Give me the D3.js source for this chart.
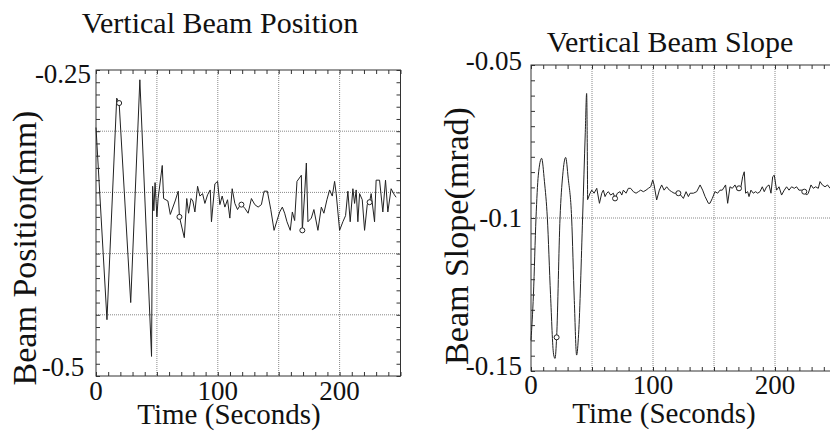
<!DOCTYPE html>
<html>
<head>
<meta charset="utf-8">
<script src="https://cdn.jsdelivr.net/npm/d3@7"></script>
<style>
  body { margin: 0; background: #fff; }
  text { font-family: "Liberation Serif", "Times New Roman", serif; fill: #111; }
</style>
</head>
<body>
<div id="chart"></div>
<script>
// Vertical beam position (mm)
var posTime = [0, 9, 17, 19, 28.5, 36, 45.6, 46.5, 47.5, 48.5, 50, 51, 54.4, 55.5, 59, 61, 65, 67.5, 68.5,
  72.5, 74.5, 76, 78, 79.5, 81.2, 83.4, 85.3, 87.5, 89.4, 91.6, 93.8, 94.8, 97.6, 99.8, 101.7, 103.6,
  105.8, 108, 109.9, 111.8, 114, 116.2, 118, 119.4, 122.2, 124.9, 127.6, 130.4, 133.1, 135.8, 138,
  140.7, 143.5, 146.2, 148.6, 150.8, 153, 154.9, 156.8, 159.5, 161.2, 163.1, 165, 168.6, 169.4, 171.3,
  172.7, 174, 176.8, 178.9, 182.2, 185, 187.1, 189.6, 191.8, 194, 195.9, 197.2, 200, 202.7, 204.9,
  206.8, 208.7, 210.9, 212.3, 213.6, 215, 216.4, 218.6, 220.5, 222.7, 224.6, 225.9, 228.7, 230,
  232.8, 235.5, 237.7, 239.6, 242.3, 245, 246.4];
var posValue = [-0.297, -0.454, -0.273, -0.277, -0.440, -0.258, -0.484, -0.345, -0.365, -0.342, -0.370,
  -0.355, -0.328, -0.355, -0.357, -0.368, -0.357, -0.349, -0.370, -0.387, -0.355, -0.367, -0.355,
  -0.357, -0.366, -0.345, -0.353, -0.351, -0.359, -0.352, -0.348, -0.374, -0.343, -0.341, -0.360,
  -0.353, -0.362, -0.356, -0.371, -0.347, -0.359, -0.364, -0.361, -0.360, -0.363, -0.367, -0.355,
  -0.360, -0.362, -0.360, -0.349, -0.349, -0.364, -0.381, -0.373, -0.366, -0.362, -0.367, -0.374,
  -0.381, -0.366, -0.373, -0.341, -0.336, -0.381, -0.351, -0.326, -0.374, -0.371, -0.364, -0.381,
  -0.362, -0.367, -0.356, -0.348, -0.353, -0.341, -0.351, -0.381, -0.374, -0.369, -0.349, -0.374,
  -0.347, -0.359, -0.348, -0.374, -0.351, -0.356, -0.381, -0.360, -0.358, -0.351, -0.374, -0.340,
  -0.340, -0.366, -0.340, -0.366, -0.347, -0.352, -0.354];
var posMarkers = [19, 68.5, 119.4, 169.4, 224.6];

// Vertical beam slope (mrad): smooth oscillation, then noisy settle
var slopeWaveTime = [0, 2, 4.1, 6, 8.7, 11, 13.4, 16, 18.5, 19.7, 21, 23.8, 26, 28.4, 30.5, 33.3, 35.5,
  37.4, 39, 42.3, 44.5, 45.6, 46.4];
var slopeWave = [-0.140, -0.125, -0.100, -0.086, -0.0805, -0.088, -0.100, -0.125, -0.1445, -0.1459,
  -0.139, -0.100, -0.086, -0.0802, -0.087, -0.100, -0.127, -0.1448, -0.138, -0.100, -0.072, -0.0593,
  -0.094];
var slopeNoiseTime = [46.4, 48.4, 49.8, 51.7, 53.9, 56.1, 58, 59.3, 60.7, 62.1, 63.4, 65.3, 67.5, 68.9,
  70.8, 73, 74.4, 75.7, 77.9, 79.8, 81.7, 83.9, 86.1, 88, 89.9, 92.1, 94.3, 96.2, 98.1, 99.8, 100.9,
  103, 105.2, 107.1, 109.1, 111.2, 113.4, 115.3, 117.3, 120.8, 122.7, 124.9, 127.1, 129, 130.4, 133.1,
  135.8, 138.6, 140.7, 142.7, 145.4, 146.7, 148.6, 150.8, 153, 154.9, 156.8, 159.5, 161.2, 163.1, 165,
  167.2, 169.1, 170.5, 172.1, 173.5, 174.8, 175.9, 177.6, 178.7, 180.3, 182.2, 184.1, 185.8, 187.7,
  189.6, 191.2, 193.1, 195.1, 196.7, 198.1, 199.4, 201.3, 203.3, 205.4, 207.6, 209.5, 211.5, 213.6,
  215.8, 217.7, 219.6, 221.8, 224, 225.9, 227.3, 229.5, 231.4, 233.3, 235.5, 236.9, 238.8, 241,
  243.1, 245.1];
var slopeNoise = [-0.094, -0.0919, -0.0909, -0.0919, -0.0903, -0.0952, -0.0919, -0.0909, -0.0930,
  -0.0919, -0.0914, -0.0925, -0.0919, -0.0936, -0.0919, -0.0914, -0.0925, -0.0909, -0.0919, -0.0903,
  -0.0903, -0.0914, -0.0919, -0.0914, -0.0909, -0.0914, -0.0909, -0.0903, -0.0898, -0.0876, -0.0892,
  -0.0941, -0.0909, -0.0892, -0.0909, -0.0898, -0.0909, -0.0914, -0.0919, -0.0919, -0.0925, -0.0936,
  -0.0914, -0.0930, -0.0919, -0.0919, -0.0914, -0.0892, -0.0909, -0.0930, -0.0952, -0.0952, -0.0936,
  -0.0914, -0.0919, -0.0909, -0.0909, -0.0892, -0.0952, -0.0898, -0.0903, -0.0892, -0.0909, -0.0903,
  -0.0898, -0.0865, -0.0849, -0.0919, -0.0914, -0.0930, -0.0909, -0.0919, -0.0914, -0.0919, -0.0914,
  -0.0898, -0.0914, -0.0898, -0.0892, -0.0919, -0.0865, -0.0860, -0.0909, -0.0898, -0.0925, -0.0909,
  -0.0898, -0.0909, -0.0898, -0.0903, -0.0898, -0.0909, -0.0909, -0.0914, -0.0925, -0.0919, -0.0892,
  -0.0903, -0.0898, -0.0903, -0.0881, -0.0892, -0.0898, -0.0892, -0.0903];
var slopeMarkers = [21, 68.9, 120.8, 170.5, 224];

// Tick labels / grid lines
var timeLabels = [0, 100, 200];
var timeGrid = [50, 100, 150, 200];
var posTickLabels = [-0.25, -0.5];
var posGrid = [-0.30, -0.35, -0.40, -0.45];
var slopeTickLabels = [-0.05, -0.1, -0.15];
var slopeGrid = [-0.1];

var svg = d3.select("#chart")
  .append("svg")
  .attr("width", 830)
  .attr("height", 434);

// zip two arrays into point objects
function zip(xs, ys) {
  return xs.map(function(x, i) { return { t: x, v: ys[i] }; });
}

// draws one framed panel with grid, inward ticks and labels
function drawPanel(cfg) {
  var x = d3.scaleLinear().domain([0, 250]).range([cfg.left, cfg.right]);
  var y = d3.scaleLinear().domain(cfg.yDomain).range([cfg.bottom, cfg.top]);

  var g = svg.append("g");

  // dotted grid
  g.selectAll(".vgrid").data(timeGrid).enter().append("line")
    .attr("x1", d => x(d)).attr("x2", d => x(d))
    .attr("y1", cfg.top).attr("y2", cfg.bottom)
    .attr("stroke", "#888").attr("stroke-width", 1).attr("stroke-dasharray", "1,1");
  g.selectAll(".hgrid").data(cfg.grid).enter().append("line")
    .attr("x1", cfg.left).attr("x2", cfg.right)
    .attr("y1", d => y(d)).attr("y2", d => y(d))
    .attr("stroke", "#888").attr("stroke-width", 1).attr("stroke-dasharray", "1,1");

  // minor ticks pointing inward on all four sides
  var xTicks = d3.range(0, 251, 10);
  var yTicks = d3.range(0, Math.round((cfg.yDomain[1] - cfg.yDomain[0]) / cfg.yStep) + 1)
    .map(i => cfg.yDomain[0] + i * cfg.yStep);

  g.append("g").attr("transform", `translate(0, ${cfg.bottom})`)
    .call(d3.axisBottom(x).tickValues(xTicks).tickSize(-4).tickFormat(""));
  g.append("g").attr("transform", `translate(0, ${cfg.top})`)
    .call(d3.axisTop(x).tickValues(xTicks).tickSize(-4).tickFormat(""));
  g.append("g").attr("transform", `translate(${cfg.left}, 0)`)
    .call(d3.axisLeft(y).tickValues(yTicks).tickSize(-4).tickFormat(""));
  g.append("g").attr("transform", `translate(${cfg.right}, 0)`)
    .call(d3.axisRight(y).tickValues(yTicks).tickSize(-4).tickFormat(""));
  g.selectAll(".domain").remove();
  g.selectAll(".tick line").attr("stroke", "#333");

  // frame
  g.append("rect")
    .attr("x", cfg.left).attr("y", cfg.top)
    .attr("width", cfg.right - cfg.left).attr("height", cfg.bottom - cfg.top)
    .attr("fill", "none").attr("stroke", "#333").attr("stroke-width", 1);

  // data lines
  cfg.lines.forEach(function(ln) {
    g.append("path")
      .datum(ln.data)
      .attr("fill", "none")
      .attr("stroke", "#222")
      .attr("stroke-width", 1)
      .attr("d", d3.line().x(d => x(d.t)).y(d => y(d.v)).curve(ln.curve));
  });

  // small open circle markers
  g.selectAll(".mark").data(cfg.marks).enter().append("circle")
    .attr("cx", d => x(d.t)).attr("cy", d => y(d.v))
    .attr("r", 2.5).attr("fill", "#fff").attr("stroke", "#222");

  // tick labels
  g.selectAll(".xlab").data(timeLabels).enter().append("text")
    .attr("x", d => x(d)).attr("y", cfg.xLabelY)
    .attr("text-anchor", "middle").style("font-size", "27px")
    .text(d => d);
  g.selectAll(".ylab").data(cfg.yLabels).enter().append("text")
    .attr("x", cfg.yLabelX).attr("y", (d, i) => y(d) + cfg.yLabelShift[i])
    .attr("dy", "0.33em")
    .attr("text-anchor", cfg.yLabelAnchor).style("font-size", "27px")
    .text(d => String(d));

  // titles
  g.append("text")
    .attr("x", cfg.titleX).attr("y", cfg.titleY)
    .attr("text-anchor", "middle").style("font-size", "30px")
    .text(cfg.title);
  g.append("text")
    .attr("x", cfg.xTitleX).attr("y", cfg.xTitleY)
    .attr("text-anchor", "middle").style("font-size", "29px")
    .text("Time (Seconds)");
  g.append("text")
    .attr("transform", `translate(${cfg.yTitleX}, ${cfg.yTitleY}) rotate(-90)`)
    .attr("text-anchor", "middle").style("font-size", "34px")
    .text(cfg.yTitle);
}

var posData = zip(posTime, posValue);
var slopeAll = zip(slopeWaveTime, slopeWave).concat(zip(slopeNoiseTime, slopeNoise));

drawPanel({
  left: 96, right: 400.5, top: 70, bottom: 376,
  yDomain: [-0.5, -0.25], yStep: 0.01, grid: posGrid,
  lines: [{ data: posData, curve: d3.curveLinear }],
  marks: posData.filter(d => posMarkers.indexOf(d.t) >= 0),
  xLabelY: 400,
  yLabels: posTickLabels, yLabelX: 63, yLabelAnchor: "middle", yLabelShift: [4, -8.5],
  title: "Vertical Beam Position", titleX: 220, titleY: 33,
  xTitleX: 229, xTitleY: 424,
  yTitle: "Beam Position(mm)", yTitleX: 36, yTitleY: 248
});

drawPanel({
  left: 531, right: 836, top: 65, bottom: 371,
  yDomain: [-0.15, -0.05], yStep: 0.005, grid: slopeGrid,
  lines: [{ data: zip(slopeWaveTime, slopeWave), curve: d3.curveMonotoneX },
    { data: zip(slopeNoiseTime, slopeNoise), curve: d3.curveLinear }],
  marks: slopeAll.filter(d => slopeMarkers.indexOf(d.t) >= 0),
  xLabelY: 394,
  yLabels: slopeTickLabels, yLabelX: 522, yLabelAnchor: "end", yLabelShift: [-3.5, 0, -4.5],
  title: "Vertical Beam Slope", titleX: 670, titleY: 52,
  xTitleX: 664, xTitleY: 423,
  yTitle: "Beam Slope(mrad)", yTitleX: 468, yTitleY: 236
});
</script>
</body>
</html>
